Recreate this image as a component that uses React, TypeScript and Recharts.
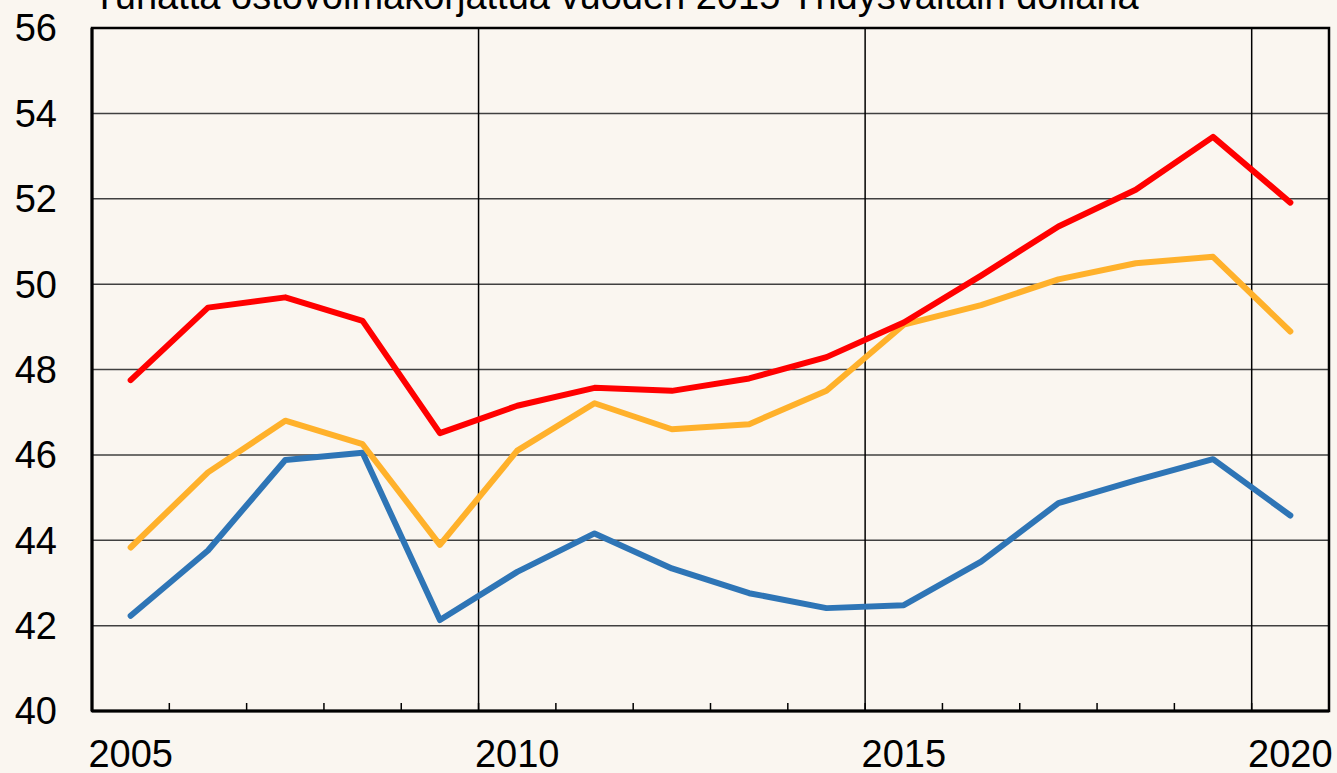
import React from 'react';
import { LineChart, Line, XAxis, YAxis, CartesianGrid, ReferenceLine, ReferenceArea } from 'recharts';

const years = [2005, 2006, 2007, 2008, 2009, 2010, 2011, 2012, 2013, 2014, 2015, 2016, 2017, 2018, 2019, 2020];
const redValues = [47.75, 49.45, 49.69, 49.14, 46.51, 47.15, 47.57, 47.5, 47.79, 48.29, 49.1, 50.2, 51.35, 52.21, 53.45, 51.91];
const orangeValues = [43.83, 45.59, 46.8, 46.25, 43.89, 46.1, 47.21, 46.6, 46.72, 47.5, 49.05, 49.51, 50.11, 50.49, 50.64, 48.89];
const blueValues = [42.23, 43.76, 45.88, 46.05, 42.13, 43.26, 44.16, 43.34, 42.76, 42.41, 42.48, 43.5, 44.87, 45.4, 45.9, 44.58];

const yTicks = [40, 42, 44, 46, 48, 50, 52, 54, 56];
const minorYearTicks = [2005, 2006, 2007, 2008, 2009, 2010, 2011, 2012, 2013, 2014, 2015, 2016, 2017, 2018, 2019, 2020, 2021];
const labelYears = [2005, 2010, 2015, 2020];
const gridYears = [2010, 2015, 2020];
const title = 'Tuhatta ostovoimakorjattua vuoden 2015 Yhdysvaltain dollaria';

const BG = '#FAF6F0';
const FONT = '"Liberation Sans", Arial, sans-serif';
const FS = 38;

const data = years.map((yr, i) => ({
  x: yr + 0.5,
  red: redValues[i],
  orange: orangeValues[i],
  blue: blueValues[i],
}));

const xTicks = [...minorYearTicks, ...labelYears.map((y) => y + 0.5)].sort((a, b) => a - b);

const XTick = (props: any) => {
  const { x, y, payload } = props;
  const v = payload.value as number;
  if (Number.isInteger(v)) {
    return <line x1={x} x2={x} y1={y} y2={y - 8} stroke="#000" strokeWidth={1.5} />;
  }
  const yr = Math.floor(v);
  if (yr % 5 !== 0) return <g />;
  return (
    <text x={x} y={y} dy={56} textAnchor="middle" fontSize={FS} fill="#000" fontFamily={FONT}>
      {yr}
    </text>
  );
};

export default function App() {
  return (
    <div style={{ position: 'fixed', left: 0, top: 0, width: 1337, height: 773, background: BG, fontFamily: FONT }}>
      <LineChart
        width={1337}
        height={773}
        data={data}
        margin={{ top: 28, right: 8, bottom: 0, left: 0 }}
      >
        <CartesianGrid vertical={false} stroke="#404040" strokeWidth={1.5} />
        {gridYears.map((g) => (
          <ReferenceLine key={g} x={g} stroke="#000" strokeWidth={1.5} ifOverflow="extendDomain" />
        ))}
        <ReferenceArea x1={2005} x2={2021} y1={40} y2={56} fill="none" fillOpacity={0} stroke="#000" strokeWidth={2.5} />
        <XAxis
          dataKey="x"
          type="number"
          domain={[2005, 2021]}
          ticks={xTicks}
          interval={0}
          height={62}
          tickSize={0}
          tickMargin={0}
          tickLine={false}
          axisLine={{ stroke: '#000', strokeWidth: 3 }}
          tick={(p: any) => <XTick {...p} />}
          allowDataOverflow
        />
        <YAxis
          type="number"
          domain={[40, 56]}
          ticks={yTicks}
          interval={0}
          width={92}
          tickSize={0}
          tickMargin={35}
          tickLine={false}
          axisLine={{ stroke: '#000', strokeWidth: 3 }}
          tick={{ fontSize: FS, fill: '#000', fontFamily: FONT }}
          allowDataOverflow
        />
        <Line type="linear" dataKey="blue" stroke="#2E75B6" strokeWidth={6} dot={false} activeDot={false} strokeLinecap="round" strokeLinejoin="round" isAnimationActive={false} />
        <Line type="linear" dataKey="orange" stroke="#FFB12B" strokeWidth={6} dot={false} activeDot={false} strokeLinecap="round" strokeLinejoin="round" isAnimationActive={false} />
        <Line type="linear" dataKey="red" stroke="#FF0000" strokeWidth={6} dot={false} activeDot={false} strokeLinecap="round" strokeLinejoin="round" isAnimationActive={false} />
      </LineChart>
      <svg width={1337} height={40} style={{ position: 'absolute', left: 0, top: 0, pointerEvents: 'none' }}>
        <text x={93} y={8.5} fontSize={FS} fill="#000" fontFamily={FONT}>
          {title}
        </text>
      </svg>
    </div>
  );
}
